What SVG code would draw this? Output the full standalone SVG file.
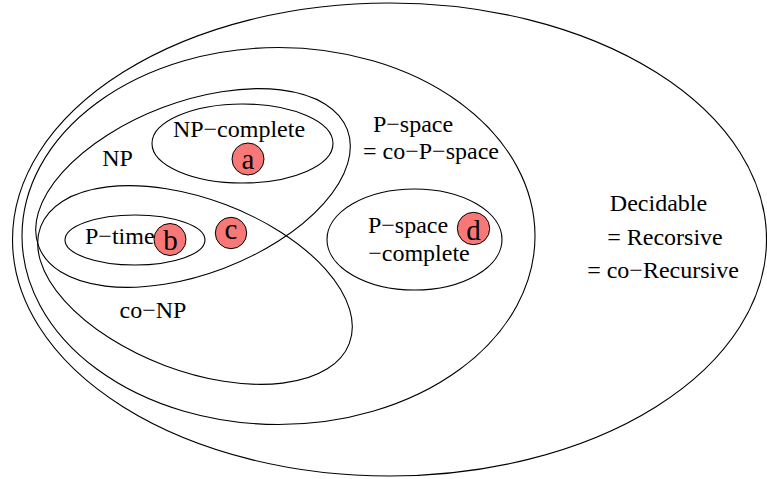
<svg xmlns="http://www.w3.org/2000/svg" width="767" height="479" viewBox="0 0 767 479">
<style>
.set{fill:none;stroke:#000;stroke-width:1.1}
.tx{font-family:'Liberation Serif',serif;font-size:24px;fill:#000}
.dot{fill:#f87878;stroke:#000;stroke-width:1}
.dl{font-family:'Liberation Serif',serif;font-size:29px;fill:#000;text-anchor:middle}
</style>
<rect width="767" height="479" fill="#fff"/>
<g id="decidable">
<ellipse class="set" cx="389.5" cy="239.5" rx="377" ry="236.5"/>
<text class="tx" font-family="Liberation Serif" x="658.5" y="211" text-anchor="middle">Decidable</text>
<text class="tx" font-family="Liberation Serif" x="665" y="245" text-anchor="middle">= Recorsive</text>
<text class="tx" font-family="Liberation Serif" x="663" y="278" text-anchor="middle">= co−Recursive</text>
</g>
<g id="pspace">
<ellipse class="set" cx="278.5" cy="236" rx="256.5" ry="188.5"/>
<text class="tx" font-family="Liberation Serif" x="413" y="132" text-anchor="middle">P−space</text>
<text class="tx" font-family="Liberation Serif" x="431" y="159" text-anchor="middle">= co−P−space</text>
</g>
<g id="np">
<ellipse class="set" cx="193" cy="188" rx="165" ry="86" transform="rotate(-20.7 193 188)"/>
<text class="tx" font-family="Liberation Serif" x="117.5" y="166" text-anchor="middle">NP</text>
</g>
<g id="conp">
<ellipse class="set" cx="195" cy="285" rx="165" ry="86" transform="rotate(20.7 195 285)"/>
<text class="tx" font-family="Liberation Serif" x="153" y="318" text-anchor="middle">co−NP</text>
</g>
<g id="npcomplete">
<ellipse class="set" cx="242.5" cy="143.5" rx="90.5" ry="39.5"/>
<text class="tx" font-family="Liberation Serif" x="239" y="137" text-anchor="middle">NP−complete</text>
</g>
<g id="ptime">
<ellipse class="set" cx="135" cy="240" rx="70" ry="25"/>
<text class="tx" font-family="Liberation Serif" x="85" y="244">P−time</text>
</g>
<g id="pspacecomplete">
<ellipse class="set" cx="414.5" cy="239.5" rx="87.5" ry="50.5"/>
<text class="tx" font-family="Liberation Serif" x="408" y="233" text-anchor="middle">P−space</text>
<text class="tx" font-family="Liberation Serif" x="419" y="261" text-anchor="middle">−complete</text>
</g>
<g id="a">
<circle class="dot" cx="248" cy="159" r="16"/>
<text class="dl" x="248" y="169">a</text>
</g>
<g id="b">
<circle class="dot" cx="170" cy="239.5" r="16"/>
<text class="dl" x="170.5" y="249.5">b</text>
</g>
<g id="c">
<circle class="dot" cx="231" cy="233" r="15.7"/>
<text class="dl" x="231" y="239">c</text>
</g>
<g id="d">
<circle class="dot" cx="473.5" cy="228.5" r="16.2"/>
<text class="dl" x="473.5" y="240">d</text>
</g>
<g id="connectors"></g>
</svg>
